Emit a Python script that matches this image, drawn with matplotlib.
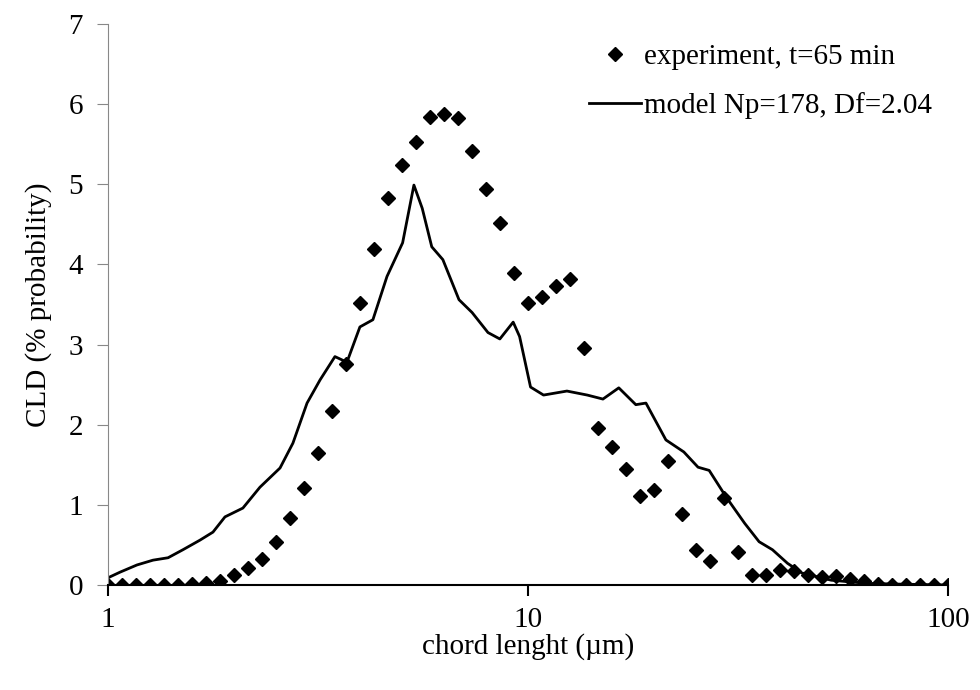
import numpy as np
import matplotlib.pyplot as plt
from matplotlib.ticker import FixedLocator, NullLocator

plt.rcParams['font.family'] = ['Liberation Serif', 'DejaVu Serif']

# experiment: measured CLD on a log-spaced chord grid (61 bins, 1..100 um)
exp_x = np.logspace(0, 2, 61)
exp_y = [0.0, 0.0, 0.0, 0.0, 0.0, 0.0, 0.01, 0.03, 0.05, 0.12,
         0.21, 0.32, 0.54, 0.84, 1.21, 1.65, 2.17, 2.76, 3.52, 4.19,
         4.83, 5.24, 5.53, 5.84, 5.88, 5.83, 5.42, 4.94, 4.52, 3.89,
         3.52, 3.59, 3.73, 3.82, 2.96, 1.96, 1.72, 1.45, 1.11, 1.19,
         1.55, 0.89, 0.44, 0.30, 1.09, 0.41, 0.13, 0.13, 0.19, 0.17,
         0.13, 0.10, 0.11, 0.07, 0.05, 0.01, 0.0, 0.0, 0.0, 0.0, 0.0]

# model Np=178, Df=2.04
mod_x = [1.00, 1.068, 1.172, 1.28, 1.39, 1.508, 1.656, 1.778, 1.899, 2.095,
         2.30, 2.568, 2.756, 2.978, 3.199, 3.47, 3.706, 3.979, 4.273, 4.616,
         5.029, 5.35, 5.6, 5.90, 6.27, 6.85, 7.36, 8.03, 8.57, 9.22,
         9.55, 10.14, 10.89, 12.38, 13.84, 15.08, 16.45, 18.06, 19.09, 21.3,
         23.5, 25.4, 27.0, 29.7, 32.8, 35.5, 38.2, 41.5, 44.9, 52.7,
         64.2, 78.3, 100.0]
mod_y = [0.09, 0.16, 0.25, 0.31, 0.34, 0.44, 0.56, 0.66, 0.85, 0.96,
         1.22, 1.46, 1.77, 2.27, 2.56, 2.85, 2.78, 3.22, 3.31, 3.85,
         4.27, 4.99, 4.70, 4.22, 4.06, 3.56, 3.40, 3.15, 3.07, 3.28,
         3.10, 2.47, 2.37, 2.42, 2.37, 2.32, 2.46, 2.25, 2.27, 1.81,
         1.66, 1.47, 1.43, 1.09, 0.77, 0.54, 0.44, 0.27, 0.15, 0.06,
         0.02, 0.01, 0.0]

fig = plt.figure(figsize=(9.8, 6.9), dpi=100)
ax = fig.add_axes([108 / 980, 105 / 690, 840 / 980, 561 / 690])

ax.plot(exp_x, exp_y, linestyle='none', marker='D', markersize=7,
        color='black', label='experiment, t=65 min')
ax.plot(mod_x, mod_y, color='black', linewidth=2, solid_joinstyle='round',
        label='model Np=178, Df=2.04')

ax.set_xscale('log')
ax.set_xlim(1, 100)
ax.set_ylim(0, 7)
ax.xaxis.set_major_locator(FixedLocator([1, 10, 100]))
ax.xaxis.set_minor_locator(NullLocator())
ax.set_xticklabels(['1', '10', '100'])
ax.set_yticks(range(0, 8))

for s in ['top', 'right']:
    ax.spines[s].set_visible(False)
ax.spines['left'].set_color('#888888')
ax.spines['bottom'].set_linewidth(1.5)
ax.tick_params(axis='y', direction='out', length=8, colors='#888888',
               labelcolor='black', labelsize=21, pad=10)
ax.tick_params(axis='x', direction='out', length=8, width=1.5, labelsize=21,
               pad=8)

ax.set_xlabel('chord lenght (µm)', fontsize=21, labelpad=0)
ax.set_ylabel('CLD (% probability)', fontsize=21, labelpad=12)

ax.legend(loc='upper right', frameon=False, fontsize=21, handlelength=1.8,
          handletextpad=0.1, borderaxespad=0.0, labelspacing=0.75,
          bbox_to_anchor=(0.995, 0.985))

fig.savefig('out.png', dpi=100)
